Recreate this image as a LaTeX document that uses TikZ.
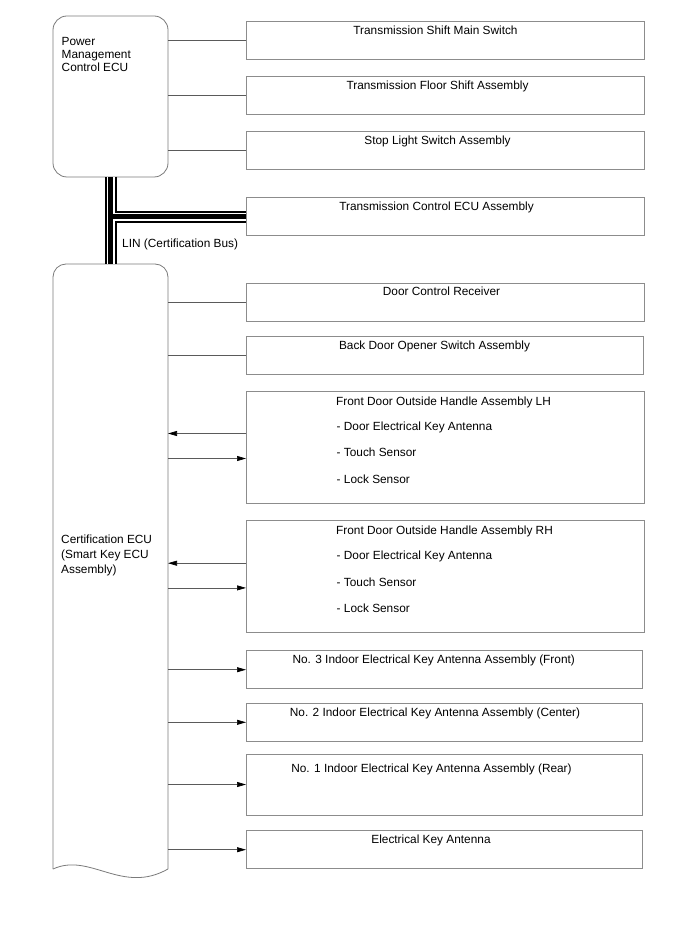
\documentclass[tikz,border=0pt]{standalone}
\usepackage{fontspec}
\setmainfont{Liberation Sans}
\usetikzlibrary{arrows.meta}
\definecolor{boxgray}{HTML}{8C8C8C}
\definecolor{ecugray}{HTML}{7A7A7A}
\definecolor{wiregray}{HTML}{5A5A5A}

\begin{document}
\begin{tikzpicture}[x=1pt, y=-1pt,
    ecu/.style={shape=rectangle, draw=ecugray, line width=0.8pt, outer sep=0pt,
      inner sep=0pt, minimum width=115pt, anchor=north west},
    part/.style={shape=rectangle, draw=boxgray, line width=0.8pt, outer sep=0pt,
      inner sep=0pt, anchor=north west, minimum width=398pt, minimum height=38pt},
    txt/.style={inner sep=0pt, font=\fontsize{11.85}{13}\selectfont},
    wire/.style={draw=wiregray, line width=0.7pt},
    arr/.style={wire, -{Triangle[length=9pt,width=5pt,color=black]}}]
          \useasboundingbox (0,0) rectangle (688,949);

          % ecus
          \node[ecu, rounded corners=14pt, minimum height=161pt] at (53,16)
          (pmc) {};
          \node[txt, align=left, anchor=north west, font=\fontsize{11.85}{12.8}\selectfont] at (61.5,37.5)
          (pmc-t) {Power\\Management\\Control ECU};
          \node[ecu, draw=none, minimum height=605pt] at (53,264)
          (cert) {};
          \node[txt, align=left, anchor=north west, font=\fontsize{11.85}{14.7}\selectfont] at (61,535)
          (cert-t) {Certification ECU\\(Smart Key ECU\\Assembly)};
          \draw[ecugray, line width=0.8pt, rounded corners=13pt]
          (cert.south west) -- (cert.north west) -- (cert.north east) -- (cert.south east);
          \draw[ecugray, line width=0.8pt]
          (cert.south west) .. controls +(37,-17) and +(-46,26) .. (cert.south east);

          % parts
          \node[part] at (246,21.7)
          (tsm) {};
          \node[txt, anchor=base] at (435.5,34.2)
          (tsm-t) {Transmission Shift Main Switch};
          \node[part] at (246,76.7)
          (tfs) {};
          \node[txt, anchor=base] at (437.5,89.2)
          (tfs-t) {Transmission Floor Shift Assembly};
          \node[part] at (246,131.7)
          (sls) {};
          \node[txt, anchor=base] at (437.5,144.2)
          (sls-t) {Stop Light Switch Assembly};
          \node[part] at (246,197.7)
          (tce) {};
          \node[txt, anchor=base] at (436.5,210.2)
          (tce-t) {Transmission Control ECU Assembly};
          \node[part] at (246,283.3)
          (dcr) {};
          \node[txt, anchor=base] at (441.5,295.7)
          (dcr-t) {Door Control Receiver};
          \node[part, minimum width=397pt] at (246,336.7)
          (bdo) {};
          \node[txt, anchor=base] at (434.5,349.2)
          (bdo-t) {Back Door Opener Switch Assembly};

          \node[part, minimum height=112pt] at (246,391)
          (fdlh) {};
          \node[txt, anchor=base west] at (336,405)
          (fdlh-t) {Front Door Outside Handle Assembly LH};
          \node[txt, anchor=base west] at (336.5,430)
          (fdlh-a) {- Door Electrical Key Antenna};
          \node[txt, anchor=base west] at (336.5,456.7)
          (fdlh-b) {- Touch Sensor};
          \node[txt, anchor=base west] at (336.5,483)
          (fdlh-c) {- Lock Sensor};

          \node[part, minimum height=112pt] at (246,520.7)
          (fdrh) {};
          \node[txt, anchor=base west] at (336,534)
          (fdrh-t) {Front Door Outside Handle Assembly RH};
          \node[txt, anchor=base west] at (336.5,559)
          (fdrh-a) {- Door Electrical Key Antenna};
          \node[txt, anchor=base west] at (336.5,586)
          (fdrh-b) {- Touch Sensor};
          \node[txt, anchor=base west] at (336.5,612.7)
          (fdrh-c) {- Lock Sensor};

          \node[part, minimum width=396pt] at (246,650.7)
          (ant3) {};
          \node[txt, anchor=base] at (433.7,663.3)
          (ant3-t) {No. 3 Indoor Electrical Key Antenna Assembly (Front)};
          \node[part, minimum width=396pt] at (246,703.3)
          (ant2) {};
          \node[txt, anchor=base] at (435,716)
          (ant2-t) {No. 2 Indoor Electrical Key Antenna Assembly (Center)};
          \node[part, minimum width=396pt, minimum height=61pt] at (246,754)
          (ant1) {};
          \node[txt, anchor=base] at (431.5,772.5)
          (ant1-t) {No. 1 Indoor Electrical Key Antenna Assembly (Rear)};
          \node[part, minimum width=396pt] at (246,830.7)
          (eka) {};
          \node[txt, anchor=base] at (431,843.3)
          (eka-t) {Electrical Key Antenna};

          \coordinate (fdlh-rx) at ([yshift=13.5pt]fdlh.west);
          \coordinate (fdlh-tx) at ([yshift=-11.5pt]fdlh.west);
          \coordinate (fdrh-rx) at ([yshift=13.5pt]fdrh.west);
          \coordinate (fdrh-tx) at ([yshift=-11.2pt]fdrh.west);

          % bus
          \foreach \w/\c in {12/black, 8/white, 4.5/black}
            \draw[line width=\w pt, \c]
            (pmc.south) -- (cert.north)
            (pmc.south |- tce.west) -- (tce.west);
          \node[txt, anchor=base west] at (122,247.3)
          (lin) {LIN (Certification Bus)};

          % arcs
          \draw[wire]
          (pmc.east |- tsm.west) -- (tsm.west)
          (pmc.east |- tfs.west) -- (tfs.west)
          (pmc.east |- sls.west) -- (sls.west)
          (cert.east |- dcr.west) -- (dcr.west)
          (cert.east |- bdo.west) -- (bdo.west)
          ;
          \draw[arr] (fdlh-rx) -- (fdlh-rx -| cert.east);
          \draw[arr] (fdlh-tx -| cert.east) -- (fdlh-tx);
          \draw[arr] (fdrh-rx) -- (fdrh-rx -| cert.east);
          \draw[arr] (fdrh-tx -| cert.east) -- (fdrh-tx);
          \draw[arr] (ant3.west -| cert.east) -- (ant3.west);
          \draw[arr] (ant2.west -| cert.east) -- (ant2.west);
          \draw[arr] (ant1.west -| cert.east) -- (ant1.west);
          \draw[arr] (eka.west -| cert.east) -- (eka.west);
        \end{tikzpicture}
\end{document}
